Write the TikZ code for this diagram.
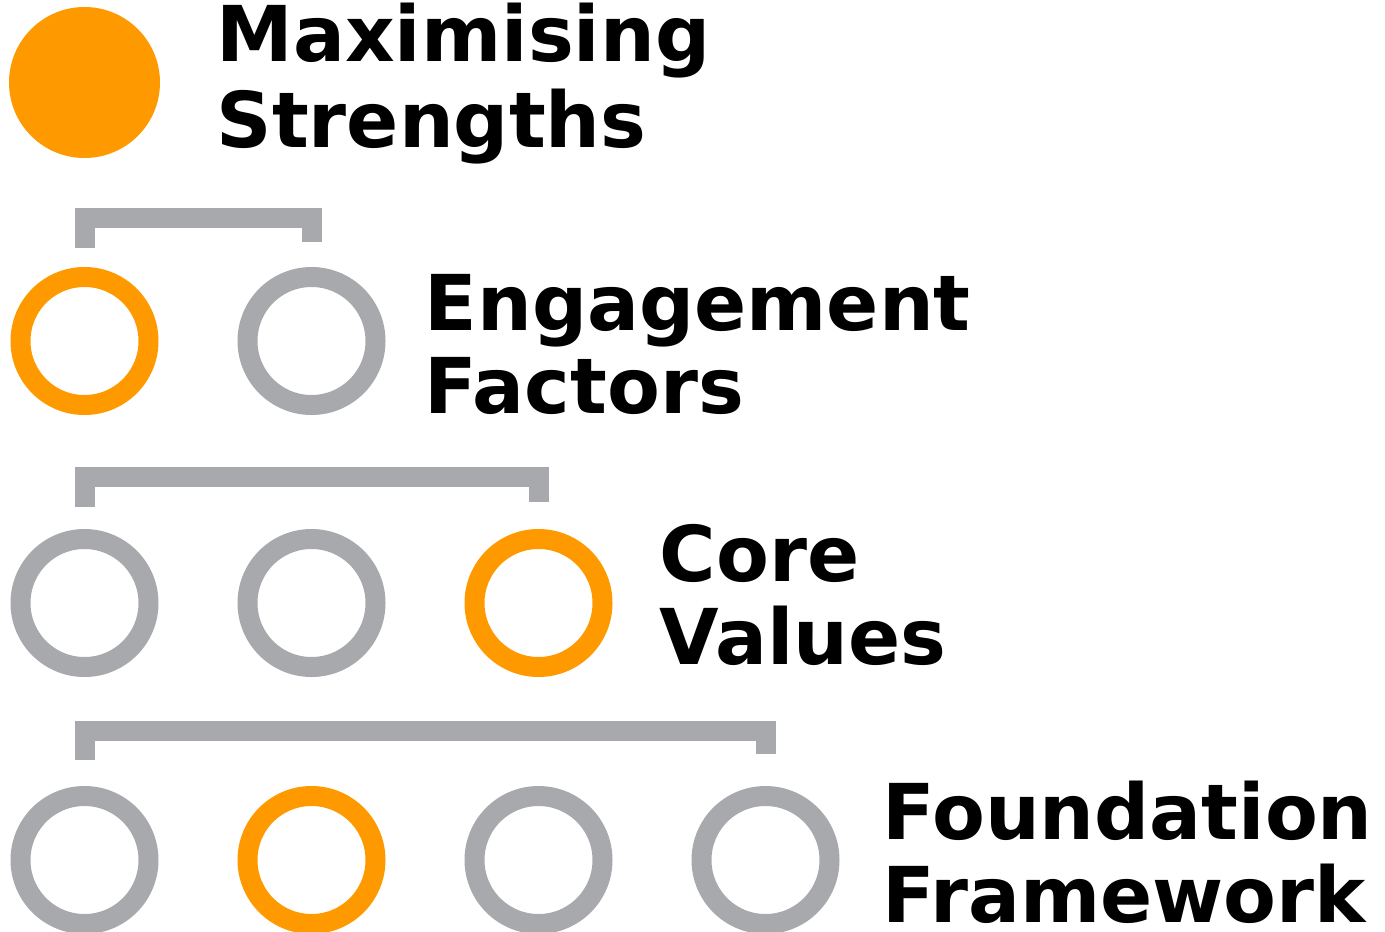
\documentclass[tikz,border=0pt]{standalone}
\usepackage{fontspec}
\setmainfont{DejaVu Sans}
\usepackage{tikz}
\usetikzlibrary{positioning}
\definecolor{ringorange}{HTML}{FF9900}
\definecolor{ringgray}{HTML}{A7A9AC}

\begin{document}
\begin{tikzpicture}[x=1pt,y=1pt,
        ring/.style={circle, draw=#1, line width=20pt, minimum size=128pt, inner sep=0pt},
        ring/.default=ringgray,
        bracket/.style={draw=ringgray, line width=20pt},
        leveltext/.style={font=\fontsize{77}{83}\selectfont\bfseries, align=left, inner sep=0pt, anchor=base west}]
        \useasboundingbox (0,0) rectangle (1385,-932);
        % top: one filled circle
        \node [circle, fill=ringorange, minimum size=151pt, inner sep=0pt] (ms) at (84.5,-82.5) {};
        \node [leveltext, font=\fontsize{77}{86}\selectfont\bfseries] (mstext) at ([xshift=132pt,yshift=-65pt]ms.center) {Maximising\\Strengths};
        % engagement factors
        \node [ring=ringorange] (e1) at (84.5,-341) {};
        \node [ring, right=79pt of e1] (e2) {};
        \node [leveltext] (etext) at ([xshift=113pt,yshift=-72pt]e2.center) {Engagement\\Factors};
        \draw [bracket] ([yshift=19pt]e1.north) |- ([yshift=49pt]e2.north) -- ([yshift=25pt]e2.north);
        % core values
        \node [ring] (c1) at (84.5,-603) {};
        \node [ring, right=79pt of c1] (c2) {};
        \node [ring=ringorange, right=79pt of c2] (c3) {};
        \node [leveltext] (ctext) at ([xshift=121pt,yshift=-61pt]c3.center) {Core\\Values};
        \draw [bracket] ([yshift=22pt]c1.north) |- ([yshift=52pt]c3.north) -- ([yshift=27pt]c3.north);
        % foundation framework
        \node [ring] (f1) at (84.5,-860) {};
        \node [ring=ringorange, right=79pt of f1] (f2) {};
        \node [ring, right=79pt of f2] (f3) {};
        \node [ring, right=79pt of f3] (f4) {};
        \node [leveltext, text depth=0pt] (ftext) at ([xshift=117pt,yshift=-62pt]f4.center) {Foundation\\Framework};
        \draw [bracket] ([yshift=26pt]f1.north) |- ([yshift=55pt]f4.north) -- ([yshift=32pt]f4.north);
\end{tikzpicture}
\end{document}
